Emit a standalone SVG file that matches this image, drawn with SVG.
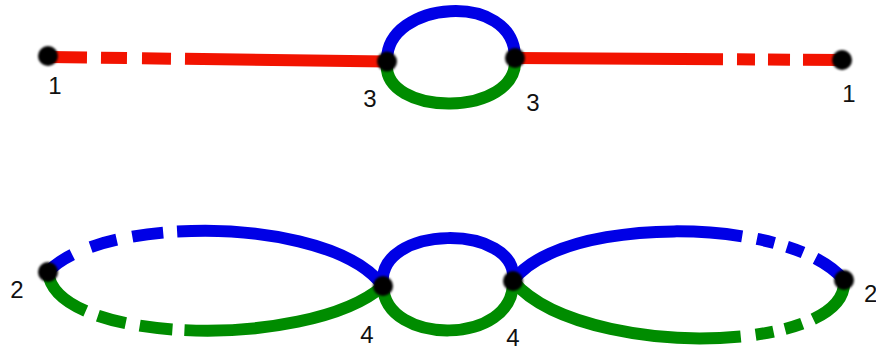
<svg xmlns="http://www.w3.org/2000/svg" width="876" height="351" viewBox="0 0 876 351">
<defs>
<filter id="blur" x="-50%" y="-50%" width="200%" height="200%"><feGaussianBlur stdDeviation="1.3"/></filter>
<style>
.e{fill:none;stroke-width:12;stroke-linecap:butt}
.r{stroke:#f21300}
.b{stroke:#0000e6}
.g{stroke:#008c00}
.n{fill:#000;filter:url(#blur)}
.t{font-family:"Liberation Sans",Arial,sans-serif;font-size:24px;fill:#111}
</style>
</defs>
<rect width="876" height="351" fill="#fff"/>
<g id="connectors">
<path class="e r" d="M48,57 L387,61.5" stroke-dasharray="39 14 26 15 29 14 400"/>
<path class="e r" d="M842,60 L515,58" stroke-dasharray="39 13 22 13 18 14 400"/>
<path class="e b" d="M387,61.5 C385,0 515,-10 515,58"/>
<path class="e g" d="M387,61.5 C380,118 520,118 515,58"/>
<path class="e b" d="M48,272 C100,215 330,215 383,286" stroke-dasharray="30 20 27 16 31 14 1000"/>
<path class="e g" d="M48,272 C55,345 310,350 383,286" stroke-dasharray="57 13 29 14 33 12 1000"/>
<path class="e b" d="M383,286 C375,223 520,223 513,281"/>
<path class="e g" d="M383,286 C385,346 515,346 513,281"/>
<path class="e b" d="M844,280 C790,215 560,215 513,281" stroke-dasharray="36 14 17 13 18 15 1000"/>
<path class="e g" d="M844,280 C850,355 580,360 513,281" stroke-dasharray="53 12 18 12 18 15 1000"/>
</g>
<g id="n1a"><circle class="n" cx="48" cy="56" r="10"/><text class="t" x="55" y="94" text-anchor="middle">1</text></g>
<g id="n3a"><circle class="n" cx="387" cy="61.5" r="10"/><text class="t" x="370" y="107" text-anchor="middle">3</text></g>
<g id="n3b"><circle class="n" cx="515" cy="58" r="10"/><text class="t" x="533" y="111" text-anchor="middle">3</text></g>
<g id="n1b"><circle class="n" cx="842" cy="60" r="10"/><text class="t" x="849" y="102" text-anchor="middle">1</text></g>
<g id="n2a"><circle class="n" cx="48" cy="272" r="10"/><text class="t" x="17" y="298" text-anchor="middle">2</text></g>
<g id="n4a"><circle class="n" cx="383" cy="286" r="10"/><text class="t" x="367" y="343" text-anchor="middle">4</text></g>
<g id="n4b"><circle class="n" cx="513" cy="281" r="10"/><text class="t" x="513" y="346" text-anchor="middle">4</text></g>
<g id="n2b"><circle class="n" cx="844" cy="280" r="10"/><text class="t" x="864" y="302">2</text></g>
</svg>
